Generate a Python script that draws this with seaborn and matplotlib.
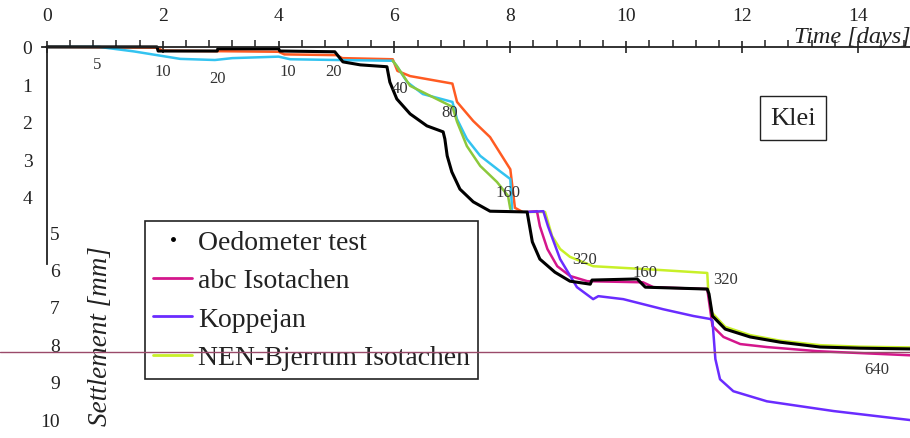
import numpy as np
import matplotlib
matplotlib.use("Agg")
import matplotlib.pyplot as plt
import seaborn as sns
from matplotlib.lines import Line2D
from matplotlib.ticker import FixedLocator

# settlement curves, time in days, settlement in mm
oedo_t = [0, 1.90, 1.92, 2.94, 2.95, 4.00, 4.02, 4.97, 5.11, 5.41, 5.87, 5.92, 6.04, 6.27,
          6.56, 6.84, 6.87, 6.91, 6.99, 7.13, 7.36, 7.65, 8.29, 8.38, 8.51, 8.77, 9.03, 9.38,
          9.41, 10.19, 10.33, 11.40, 11.43, 11.49, 11.71, 12.14, 12.66, 13.35, 14.04, 14.90]
oedo_s = [0, 0, 0.11, 0.11, 0.05, 0.05, 0.11, 0.13, 0.40, 0.48, 0.53, 0.94, 1.39, 1.79,
          2.11, 2.27, 2.46, 2.91, 3.34, 3.80, 4.14, 4.39, 4.41, 5.21, 5.67, 6.02, 6.26, 6.34,
          6.23, 6.20, 6.42, 6.47, 6.60, 7.19, 7.54, 7.75, 7.89, 8.02, 8.05, 8.07]

orange_t = [0, 1.9, 2.0, 4.0, 4.1, 5.0, 5.1, 5.97, 6.05, 6.27, 7.0, 7.08, 7.36, 7.65, 8.0, 8.08, 8.2]
orange_s = [0, 0.02, 0.1, 0.13, 0.2, 0.22, 0.3, 0.33, 0.64, 0.78, 0.98, 1.47, 1.98, 2.41, 3.27, 4.3, 4.4]

cyan_t = [0, 0.9, 1.5, 1.9, 2.3, 2.9, 3.2, 4.0, 4.2, 5.0, 5.97, 6.04, 6.22, 6.49, 7.0, 7.08,
          7.25, 7.48, 7.82, 8.0, 8.03]
cyan_s = [0, 0, 0.12, 0.22, 0.32, 0.35, 0.3, 0.26, 0.33, 0.35, 0.37, 0.51, 0.94, 1.26, 1.47, 1.93,
          2.46, 2.91, 3.32, 3.53, 4.33]

green_t = [5.97, 6.04, 6.27, 6.79, 7.0, 7.08, 7.25, 7.48, 7.77, 7.96, 8.0]
green_s = [0.37, 0.51, 1.04, 1.44, 1.6, 2.0, 2.65, 3.18, 3.61, 3.98, 4.33]

nen_t = [8.3, 8.6, 8.72, 8.86, 9.03, 9.43, 10.36, 11.40, 11.42, 11.48, 11.71, 12.14, 12.66,
         13.35, 14.04, 14.9]
nen_s = [4.41, 4.41, 5.05, 5.40, 5.61, 5.86, 5.94, 6.04, 6.6, 7.1, 7.48, 7.7, 7.85,
         7.97, 8.01, 8.03]

abc_t = [8.3, 8.46, 8.51, 8.64, 8.81, 9.03, 9.33, 10.29, 10.47, 11.40, 11.49, 11.68, 11.97,
         12.43, 13.30, 14.9]
abc_s = [4.41, 4.39, 4.79, 5.40, 5.86, 6.12, 6.26, 6.29, 6.42, 6.47, 7.46, 7.75, 7.94,
         8.02, 8.13, 8.24]

kop_t = [8.3, 8.57, 8.65, 8.86, 9.15, 9.43, 9.52, 9.95, 10.64, 11.16, 11.45, 11.49, 11.54,
         11.62, 11.85, 12.43, 13.58, 14.9]
kop_s = [4.41, 4.39, 4.79, 5.67, 6.42, 6.74, 6.66, 6.74, 7.01, 7.19, 7.27, 7.32, 8.34,
         8.88, 9.2, 9.47, 9.73, 9.97]

# load steps (kPa) written next to the curves
load_text = ["5", "10", "20", "10", "20", "40", "80", "160", "320", "160", "320", "640"]
load_t = [0.86, 2.0, 2.95, 4.15, 4.94, 6.1, 6.96, 7.96, 9.29, 10.33, 11.71, 14.33]
load_s = [0.45, 0.64, 0.83, 0.64, 0.64, 1.1, 1.74, 3.88, 5.67, 6.02, 6.2, 8.61]

x_major = [0, 2, 4, 6, 8, 10, 12, 14]
y_major = [0, 1, 2, 3, 4]
y_extra = [5, 6, 7, 8, 9, 10]

sns.set_theme(style="white")
plt.rcParams["font.family"] = ["Liberation Serif", "DejaVu Serif"]

fig = plt.figure(figsize=(9.1, 4.39), dpi=100)
ax = fig.add_axes([0, 0, 1, 1])

black, orange, cyan = "#000000", "#ff5b22", "#33c3f0"
green, lime, magenta, purple = "#8cc83c", "#c8f028", "#d4168c", "#6a2cff"

kw = dict(sort=False, estimator=None, ax=ax, legend=False)
sns.lineplot(x=orange_t, y=orange_s, color=orange, lw=1.8, **kw)
sns.lineplot(x=cyan_t, y=cyan_s, color=cyan, lw=1.8, **kw)
sns.lineplot(x=green_t, y=green_s, color=green, lw=1.8, **kw)
sns.lineplot(x=nen_t, y=nen_s, color=lime, lw=1.8, **kw)
sns.lineplot(x=abc_t, y=abc_s, color=magenta, lw=1.8, **kw)
sns.lineplot(x=kop_t, y=kop_s, color=purple, lw=1.8, **kw)
sns.lineplot(x=oedo_t, y=oedo_s, color=black, lw=2.2, **kw)

for txt, t, s in zip(load_text, load_t, load_s):
    ax.text(t, s, txt, fontsize=12, color="#333333", ha="center", va="center")

ax.set_xlim(-0.81, 14.9)
ax.set_ylim(10.45, -1.28)
ax.set_xlabel("")
ax.set_ylabel("")

for side in ["right", "bottom"]:
    ax.spines[side].set_visible(False)
ax.spines["top"].set_position(("data", 0))
ax.spines["top"].set_bounds(-0.08, 14.9)
ax.spines["left"].set_position(("data", 0))
ax.spines["left"].set_bounds(0, 5.8)
for side in ["top", "left"]:
    ax.spines[side].set_color("#222222")
    ax.spines[side].set_linewidth(1.3)

ax.xaxis.tick_top()
ax.set_xticks(x_major)
ax.xaxis.set_minor_locator(FixedLocator(np.arange(0, 15, 0.4)))
ax.set_yticks(y_major)
ax.yaxis.set_minor_locator(FixedLocator(np.arange(0.2, 5.7, 0.2)))
ax.tick_params(axis="x", which="major", direction="inout", length=9, width=1.2,
               pad=12, labelsize=14, colors="#222222")
ax.tick_params(axis="x", which="minor", direction="out", length=5, width=1.1, color="#222222")
ax.tick_params(axis="y", which="major", direction="inout", length=9, width=1.2,
               pad=6, labelsize=14, colors="#222222")
ax.tick_params(axis="y", which="minor", direction="out", length=5, width=1.1, color="#222222")

for v in y_extra:
    ax.text(0.22, v, str(v), fontsize=14, color="#222222", ha="right", va="center")

ax.text(12.9, -0.27, "Time [days]", fontsize=17.5, style="italic", color="#222222",
        ha="left", va="center")
ax.text(0.92, 7.7, "Settlement [mm]", fontsize=19.5, style="italic", color="#222222",
        rotation=90, ha="center", va="center")

ax.text(12.88, 1.9, "Klei", fontsize=19, color="#222222", ha="center", va="center",
        bbox=dict(boxstyle="square,pad=0.4", fc="white", ec="#222222", lw=1))

handles = [
    Line2D([], [], ls="none", marker=".", ms=5, color=black, label="Oedometer test"),
    Line2D([], [], color=magenta, lw=2, label="abc Isotachen"),
    Line2D([], [], color=purple, lw=2, label="Koppejan"),
    Line2D([], [], color=lime, lw=2, label="NEN-Bjerrum Isotachen"),
]
leg = ax.legend(handles=handles, loc="upper left", bbox_to_anchor=(145 / 910, 1 - 222 / 439),
                bbox_transform=fig.transFigure, fontsize=20, frameon=True, fancybox=False,
                framealpha=1, edgecolor="#222222", handlelength=1.4, handletextpad=0.2,
                labelspacing=0.47, borderpad=0.3, borderaxespad=0)
leg.get_frame().set_linewidth(1.2)
for t in leg.get_texts():
    t.set_color("#222222")

# stray horizontal trace across the scan
ax.axhline(8.15, color="#9a4a6a", lw=1, zorder=6)

fig.savefig("out.png", dpi=100)
